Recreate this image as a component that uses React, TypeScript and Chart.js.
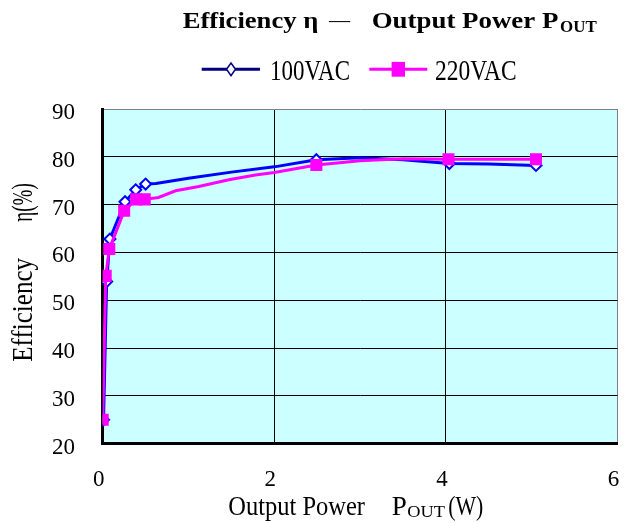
import React, { useEffect, useRef } from 'react';
import { Chart, registerables } from 'chart.js';

Chart.register(...registerables);

// ---- data ----
const X_TICKS = [0, 2, 4, 6];
const Y_TICKS = [20, 30, 40, 50, 60, 70, 80, 90];

const SERIES_100_LABEL = '100VAC';
const SERIES_220_LABEL = '220VAC';

const x100 = [0.01, 0.046, 0.084, 0.26, 0.385, 0.5, 0.62, 1.0, 1.5, 2.0, 2.49, 3.0, 3.5, 4.04, 4.5, 5.05];
const y100 = [25, 53.9, 62.8, 70.6, 73.1, 74.3, 74.4, 75.5, 76.8, 77.9, 79.4, 79.8, 79.4, 78.6, 78.5, 78.2];
const mark100 = [1, 1, 1, 1, 1, 1, 0, 0, 0, 0, 1, 0, 0, 1, 0, 1];

const x220 = [0.0, 0.035, 0.077, 0.25, 0.39, 0.49, 0.65, 0.85, 1.12, 1.47, 1.78, 2.0, 2.49, 3.0, 3.5, 4.03, 4.5, 5.05];
const y220 = [25, 55.1, 60.7, 68.7, 71.1, 71.1, 71.5, 72.9, 73.8, 75.2, 76.2, 76.7, 78.3, 79.2, 79.6, 79.5, 79.5, 79.5];
const mark220 = [1, 1, 1, 1, 1, 1, 0, 0, 0, 0, 0, 0, 1, 0, 0, 1, 0, 1];

const BLUE = '#0000FF';
const NAVY = '#000080';
const MAGENTA = '#FF00FF';
const SERIF = '"Liberation Serif", "Times New Roman", serif';

function fitText(ctx: CanvasRenderingContext2D, text: string, x: number, y: number, font: string, width: number) {
  ctx.save();
  ctx.font = font;
  ctx.textAlign = 'left';
  ctx.textBaseline = 'alphabetic';
  ctx.fillStyle = '#000';
  const w = ctx.measureText(text).width || 1;
  ctx.translate(x, y);
  ctx.scale(width / w, 1);
  ctx.fillText(text, 0, 0);
  ctx.restore();
}

const decor = {
  id: 'decor',
  beforeDraw(chart: any) {
    const { ctx, chartArea: a } = chart;
    ctx.save();
    ctx.fillStyle = '#CCFFFF';
    ctx.fillRect(a.left, a.top, a.right - a.left, a.bottom - a.top);
    ctx.restore();
  },
  afterDraw(chart: any) {
    const ctx: CanvasRenderingContext2D = chart.ctx;
    // Title
    const tf = `bold 24px ${SERIF}`;
    fitText(ctx, 'Efficiency η', 182.7, 28.3, tf, 135.6);
    fitText(ctx, '—', 329, 27.3, `22px ${SERIF}`, 21);
    fitText(ctx, 'Output Power P', 371.7, 28.3, tf, 186.6);
    fitText(ctx, 'OUT', 560, 31.7, `bold 16px ${SERIF}`, 36.7);

    // Legend
    ctx.save();
    ctx.lineWidth = 3;
    ctx.strokeStyle = NAVY;
    ctx.beginPath();
    ctx.moveTo(201.7, 69.3);
    ctx.lineTo(260, 69.3);
    ctx.stroke();
    ctx.beginPath();
    ctx.moveTo(231, 63);
    ctx.lineTo(235.5, 69.3);
    ctx.lineTo(231, 75.6);
    ctx.lineTo(226.5, 69.3);
    ctx.closePath();
    ctx.fillStyle = '#fff';
    ctx.fill();
    ctx.lineWidth = 1.5;
    ctx.stroke();
    ctx.lineWidth = 3;
    ctx.strokeStyle = MAGENTA;
    ctx.beginPath();
    ctx.moveTo(369.3, 69.3);
    ctx.lineTo(427.3, 69.3);
    ctx.stroke();
    ctx.fillStyle = MAGENTA;
    ctx.fillRect(398.3 - 6.7, 69.3 - 7.4, 13.4, 14.8);
    ctx.restore();
    fitText(ctx, SERIES_100_LABEL, 270, 80, `30px ${SERIF}`, 80);
    fitText(ctx, SERIES_220_LABEL, 435, 80, `30px ${SERIF}`, 81.7);

    // X axis title
    const xf = `27.7px ${SERIF}`;
    fitText(ctx, 'Output Power', 228.3, 515, xf, 136.7);
    fitText(ctx, 'P', 391.7, 515, xf, 15);
    fitText(ctx, 'OUT', 407.3, 517.3, `17.5px ${SERIF}`, 37.7);
    fitText(ctx, '(W)', 448.3, 515, xf, 35);

    // Y axis title
    ctx.save();
    ctx.translate(31.7, 361.7);
    ctx.rotate(-Math.PI / 2);
    fitText(ctx, 'Efficiency', 0, 0, `30px ${SERIF}`, 103.7);
    fitText(ctx, 'η(%)', 140, 0, `30px ${SERIF}`, 38.4);
    ctx.restore();
  },
};

export default function App() {
  const ref = useRef<HTMLCanvasElement | null>(null);

  useEffect(() => {
    const canvas = ref.current;
    if (!canvas) return;
    const chart = new Chart(canvas, {
      type: 'line',
      data: {
        datasets: [
          {
            label: SERIES_220_LABEL,
            data: x220.map((x, i) => ({ x, y: y220[i] })),
            borderColor: MAGENTA,
            backgroundColor: MAGENTA,
            borderWidth: 3,
            pointStyle: 'rect',
            pointRadius: mark220.map((m) => (m ? 8.5 : 0)),
            pointBorderWidth: 0,
            pointBackgroundColor: MAGENTA,
            pointBorderColor: MAGENTA,
            tension: 0,
            order: 0,
          },
          {
            label: SERIES_100_LABEL,
            data: x100.map((x, i) => ({ x, y: y100[i] })),
            borderColor: BLUE,
            backgroundColor: '#FFFFFF',
            borderWidth: 3,
            pointStyle: 'rectRot',
            pointRadius: mark100.map((m) => (m ? 5.5 : 0)),
            pointBorderWidth: 2,
            pointBackgroundColor: '#FFFFFF',
            pointBorderColor: BLUE,
            tension: 0,
            order: 1,
          },
        ],
      },
      options: {
        animation: false,
        responsive: false,
        devicePixelRatio: 1,
        events: [],
        layout: { padding: { left: 0, right: 4.3, top: 109, bottom: 0 } },
        plugins: {
          legend: { display: false },
          title: { display: false },
          tooltip: { enabled: false },
        },
        scales: {
          x: {
            type: 'linear',
            min: 0,
            max: 6,
            afterBuildTicks: (s: any) => {
              s.ticks = X_TICKS.map((v) => ({ value: v }));
            },
            afterFit: (s: any) => {
              s.height = 523 - 443.7;
              s.paddingLeft = 0;
              s.paddingRight = 0;
            },
            grid: {
              color: (c: any) => (c.tick && c.tick.value === 6 ? '#808080' : '#000000'),
              lineWidth: 1,
              drawTicks: false,
            },
            border: { display: true, color: '#000000', width: 3 },
            ticks: {
              color: '#000',
              font: { family: SERIF, size: 23 },
              padding: 22,
              labelOffset: -4,
              maxRotation: 0,
            },
          },
          y: {
            type: 'linear',
            min: 20,
            max: 90,
            afterBuildTicks: (s: any) => {
              s.ticks = Y_TICKS.map((v) => ({ value: v }));
            },
            afterFit: (s: any) => {
              s.width = 102.7;
              s.paddingTop = 0;
              s.paddingBottom = 0;
            },
            grid: {
              color: (c: any) => (c.tick && c.tick.value === 90 ? '#808080' : '#000000'),
              lineWidth: 1,
              drawTicks: false,
            },
            border: { display: true, color: '#000000', width: 3 },
            ticks: {
              color: '#000',
              font: { family: SERIF, size: 23 },
              padding: 27.7,
              labelOffset: 4,
            },
          },
        },
      },
      plugins: [decor],
    });
    return () => chart.destroy();
  }, []);

  return (
    <div style={{ position: 'absolute', left: 0, top: 0, width: 626, height: 523, background: '#fff' }}>
      <canvas ref={ref} width={626} height={523} style={{ display: 'block', width: 626, height: 523 }} />
    </div>
  );
}
